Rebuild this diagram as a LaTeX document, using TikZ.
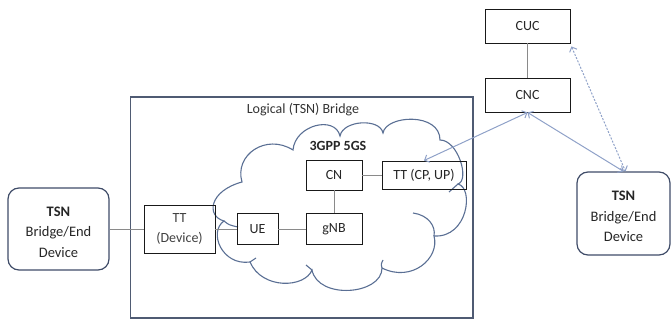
\documentclass[tikz,border=0pt]{standalone}
\usepackage{fontspec}
\setmainfont{Carlito}
\usetikzlibrary{arrows.meta}
\definecolor{inkdark}{HTML}{262626}
\definecolor{slateframe}{HTML}{4F5B73}
\definecolor{tsnframe}{HTML}{3F4C68}
\definecolor{cloudblue}{HTML}{5A6F94}
\definecolor{linkgray}{HTML}{8A8A8A}
\definecolor{ctrlblue}{HTML}{8FA1C8}
\begin{document}
\begin{tikzpicture}[x=1pt,y=-1pt,
  every node/.style={text=inkdark,font=\fontsize{14}{20}\selectfont,inner sep=0pt},
  box/.style={draw=black!90,line width=0.9pt,align=center},
  tsnbox/.style={draw=tsnframe,line width=1.2pt,rounded corners=11pt},
  tsntext/.style={align=center,font=\fontsize{14.5}{20.5}\selectfont},
  framebox/.style={draw=slateframe,line width=1.1pt},
  cloudline/.style={draw=cloudblue,line width=1.1pt},
  link/.style={draw=linkgray,line width=0.8pt},
  ctrl/.style={draw=ctrlblue,line width=1pt,{Straight Barb[length=4pt,width=8pt]}-{Straight Barb[length=4pt,width=8pt]}}]
\useasboundingbox (0,0) rectangle (671,320);

% logical bridge frame and its title
\node[framebox,minimum width=342.5pt,minimum height=221pt] (bridge) at (301.75,207.5) {};
\node[text=black!80] (bridgetitle) at (303,110) {Logical (TSN) Bridge};

% 5GS cloud outline
\draw[cloudline] (224,221)
  .. controls (206,216) and (209,191) .. (242,182)
  .. controls (234,155) and (266,133) .. (293,150)
  .. controls (295,125) and (335,115) .. (340,136)
  .. controls (343,120) and (380,118) .. (383,133)
  .. controls (386,115) and (440,112) .. (440,140)
  .. controls (458,140) and (470,180) .. (458,184)
  .. controls (474,188) and (468,238) .. (434,236)
  .. controls (440,258) and (412,283) .. (382,268)
  .. controls (382,295) and (318,300) .. (312,270)
  .. controls (305,288) and (262,290) .. (250,262)
  .. controls (222,266) and (208,232) .. (224,221) -- cycle;
% inner puff arcs
\draw[cloudline] (224,221) .. controls (229,225) .. (238,227);
\draw[cloudline] (458,184) .. controls (453,188) .. (449,192);
\draw[cloudline] (413,213) .. controls (428,215) and (436,226) .. (434,236);
\draw[cloudline] (382,268) .. controls (381,264) .. (383,260);
\draw[cloudline] (312,270) .. controls (309,268) .. (306,265);
\draw[cloudline] (250,262) .. controls (253,260) .. (256,258);
\node[font=\fontsize{14}{20}\selectfont\bfseries] (fivegs) at (338,146) {3GPP 5GS};

% end stations
\node[tsnbox,minimum width=101pt,minimum height=82pt] (tsnL) at (58.5,229) {};
\node[tsntext] (tsnLtext) at (58.5,232) {\textbf{TSN}\\Bridge/End\\Device};
\node[tsnbox,minimum width=93pt,minimum height=83pt] (tsnR) at (623.5,213.5) {};
\node[tsntext] (tsnRtext) at (623.5,216.5) {\textbf{TSN}\\Bridge/End\\Device};

% network functions
\node[box,minimum width=71pt,minimum height=48pt,text=black!75] (ttdev) at (179.5,229) {TT\\(Device)};
\node[box,minimum width=41pt,minimum height=31pt] (ue) at (257.5,229) {UE};
\node[box,minimum width=56pt,minimum height=31pt] (gnb) at (334,229) {gNB};
\node[box,minimum width=56pt,minimum height=30pt] (cn) at (334,175) {CN};
\node[box,minimum width=84pt,minimum height=28pt] (ttcp) at (424,175) {TT (CP, UP)};
\node[box,minimum width=85pt,minimum height=34pt] (cuc) at (527.5,26) {CUC};
\node[box,minimum width=85pt,minimum height=34pt] (cnc) at (527.5,95) {CNC};

% user plane and internal links
\draw[link] (tsnL.east) -- (ttdev.west);
\draw[link] (ttdev.east) -- (ue.west);
\draw[link] (ue.east) -- (gnb.west);
\draw[link] (cn.south) -- (gnb.north);
\draw[link] (cn.east) -- (ttcp.west);
\draw[link] (cuc.south) -- (cnc.north);

% control plane exchanges
\draw[ctrl] (cnc.south) -- (ttcp.north);
\draw[ctrl] (cnc.south) -- (tsnR.north);
\draw[ctrl,dashed,dash pattern=on 2pt off 1.5pt] ([shift={(1,3)}]cuc.south east) -- ([xshift=2pt]tsnR.north);
\end{tikzpicture}
\end{document}
